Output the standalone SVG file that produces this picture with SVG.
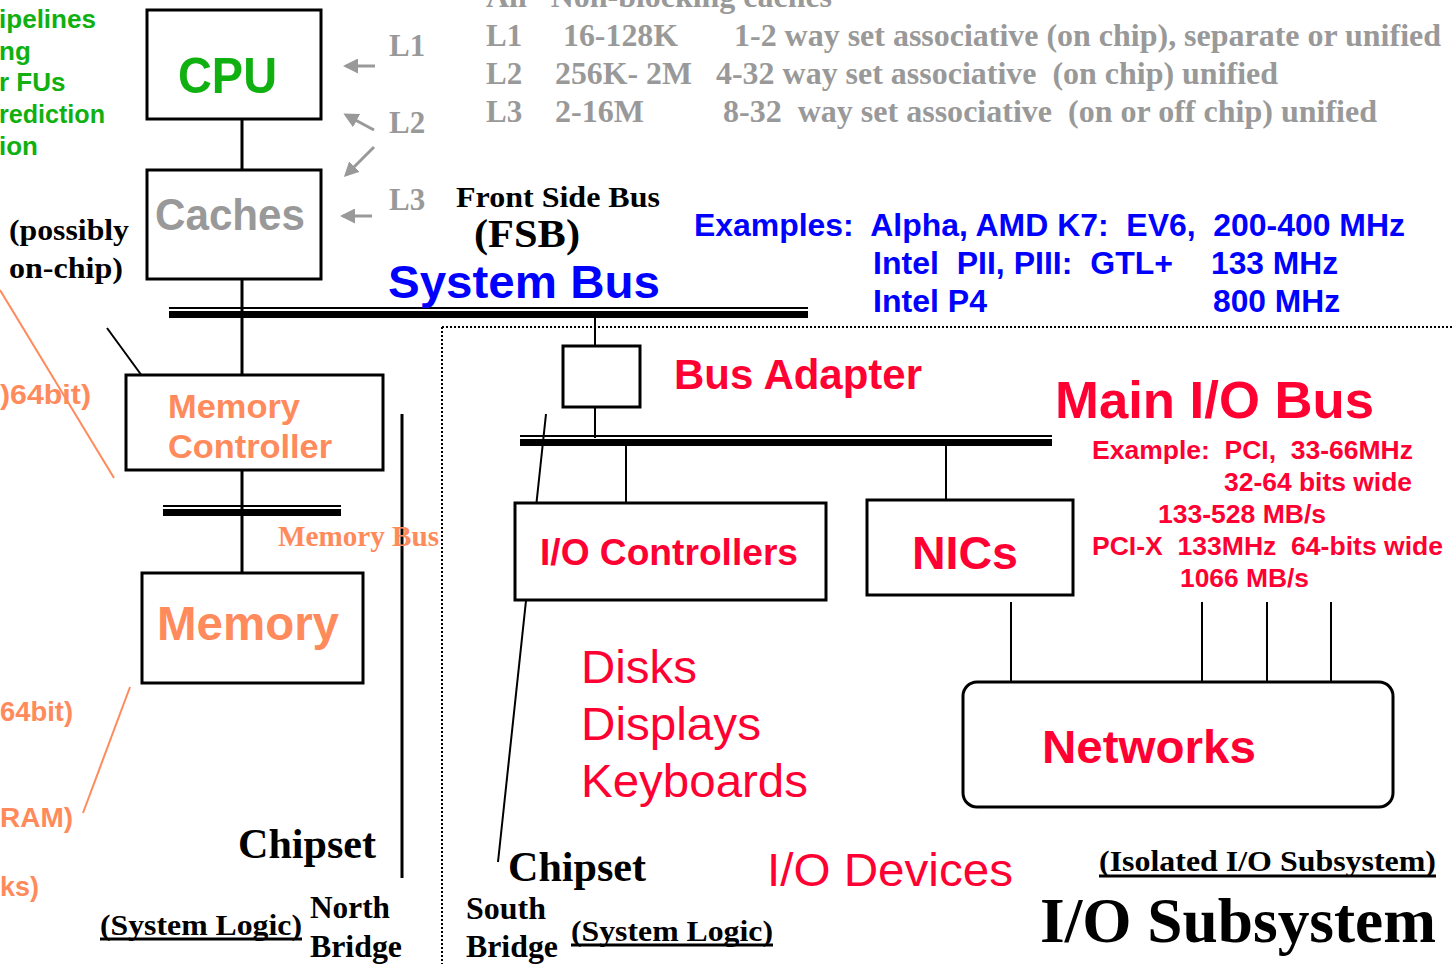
<svg xmlns="http://www.w3.org/2000/svg" width="1454" height="964" viewBox="0 0 1454 964">
  <defs>
    <marker id="grayArrow" viewBox="0 0 10 10" refX="8" refY="5" markerWidth="5" markerHeight="5" orient="auto" markerUnits="strokeWidth">
      <path d="M0,0 L10,5 L0,10 z" fill="#999999"/>
    </marker>
  </defs>
  <style>
    text { white-space: pre; }
    .sans { font-family: "Liberation Sans", Arial, sans-serif; font-weight: bold; }
    .sansn { font-family: "Liberation Sans", Arial, sans-serif; font-weight: normal; }
    .serif { font-family: "Liberation Serif", "Times New Roman", serif; font-weight: bold; }
    .box { fill: #ffffff; stroke: #000000; stroke-width: 3; }
    .wire { stroke: #000000; stroke-width: 3; fill: none; }
    .thin { stroke: #000000; stroke-width: 2; fill: none; }
    .green { fill: #10B010; }
    .gray { fill: #999999; }
    .orange { fill: #FF8A5B; }
    .red { fill: #FF0033; }
    .blue { fill: #0000FF; }
    .black { fill: #000000; }
    .dotted { stroke: #000000; stroke-width: 2; stroke-dasharray: 2 2; fill: none; }
    .garrow { stroke: #999999; stroke-width: 3; fill: none; marker-end: url(#grayArrow); }
  </style>
  <rect width="1454" height="964" fill="#ffffff"/>

  <!-- processor features list -->
  <g id="cpu-features" class="sans green" font-size="26">
    <text x="-1" y="28" textLength="97" lengthAdjust="spacingAndGlyphs">ipelines</text>
    <text x="-1" y="60">ng</text>
    <text x="-1" y="91">r FUs</text>
    <text x="-1" y="123" textLength="106" lengthAdjust="spacingAndGlyphs">rediction</text>
    <text x="-1" y="155">ion</text>
  </g>

  <!-- cache table -->
  <g id="cache-table" class="serif gray" font-size="31">
    <text x="486" y="7" textLength="346" lengthAdjust="spacingAndGlyphs">All   Non-blocking caches</text>
    <text x="486" y="46">L1</text>
    <text x="563" y="46" textLength="115" lengthAdjust="spacingAndGlyphs">16-128K</text>
    <text x="734" y="46" textLength="707" lengthAdjust="spacingAndGlyphs">1-2 way set associative (on chip), separate or unified</text>
    <text x="486" y="84">L2</text>
    <text x="555" y="84" textLength="137" lengthAdjust="spacingAndGlyphs">256K- 2M</text>
    <text x="716" y="84" textLength="562" lengthAdjust="spacingAndGlyphs">4-32 way set associative  (on chip) unified</text>
    <text x="486" y="122">L3</text>
    <text x="555" y="122" textLength="89" lengthAdjust="spacingAndGlyphs">2-16M</text>
    <text x="723" y="122" textLength="654" lengthAdjust="spacingAndGlyphs">8-32  way set associative  (on or off chip) unified</text>
  </g>

  <!-- cache level labels and pointers -->
  <g id="cache-levels">
    <g class="serif gray" font-size="31">
      <text x="389" y="56">L1</text>
      <text x="389" y="133">L2</text>
      <text x="389" y="210">L3</text>
    </g>
    <line class="garrow" x1="375" y1="66" x2="346" y2="66"/>
    <line class="garrow" x1="374" y1="130" x2="346" y2="115"/>
    <line class="garrow" x1="374" y1="147" x2="346" y2="175"/>
    <line class="garrow" x1="372" y1="216" x2="343" y2="216"/>
  </g>

  <!-- connectors -->
  <g id="connectors">
    <!-- CPU to caches to memory controller -->
    <line class="wire" x1="242" y1="119" x2="242" y2="170"/>
    <line class="wire" x1="242" y1="279" x2="242" y2="375"/>
    <line class="wire" x1="242" y1="470" x2="242" y2="573"/>
    <!-- system bus -->
    <line x1="169" y1="308" x2="808" y2="308" stroke="#000" stroke-width="2"/>
    <rect x="169" y="311" width="639" height="7" fill="#000"/>
    <!-- memory bus -->
    <line x1="163" y1="506" x2="341" y2="506" stroke="#000" stroke-width="2"/>
    <rect x="163" y="509" width="178" height="7" fill="#000"/>
    <!-- system bus to bus adapter to main I/O bus -->
    <line class="thin" x1="595" y1="318" x2="595" y2="346"/>
    <line class="thin" x1="595" y1="407" x2="595" y2="438"/>
    <!-- main I/O bus -->
    <line x1="520" y1="436" x2="1052" y2="436" stroke="#000" stroke-width="2"/>
    <rect x="520" y="439" width="532" height="7" fill="#000"/>
    <line class="thin" x1="626" y1="446" x2="626" y2="503"/>
    <line class="thin" x1="946" y1="446" x2="946" y2="500"/>
    <!-- network drops -->
    <line class="thin" x1="1011" y1="602" x2="1011" y2="682"/>
    <line class="thin" x1="1202" y1="602" x2="1202" y2="682"/>
    <line class="thin" x1="1267" y1="602" x2="1267" y2="682"/>
    <line class="thin" x1="1331" y1="602" x2="1331" y2="682"/>
    <!-- north bridge bracket -->
    <line class="wire" x1="402" y1="414" x2="402" y2="878"/>
    <!-- pointer lines -->
    <line class="thin" x1="107" y1="328" x2="153" y2="391"/>
    <line class="thin" x1="546" y1="414" x2="498" y2="862"/>
    <line x1="0" y1="290" x2="114" y2="478" stroke="#FF8A5B" stroke-width="2"/>
    <line x1="130" y1="687" x2="83" y2="813" stroke="#FF8A5B" stroke-width="2"/>
    <!-- I/O subsystem boundary -->
    <line class="dotted" x1="442" y1="327" x2="1454" y2="327"/>
    <line class="dotted" x1="442" y1="327" x2="442" y2="964"/>
  </g>

  <g id="cpu">
    <rect class="box" x="147" y="10" width="174" height="109"/>
    <text class="sans green" x="178" y="93" font-size="50" textLength="99" lengthAdjust="spacingAndGlyphs">CPU</text>
  </g>

  <g id="caches">
    <rect class="box" x="147" y="170" width="174" height="109"/>
    <text class="sans gray" x="155" y="230" font-size="44" textLength="150" lengthAdjust="spacingAndGlyphs">Caches</text>
  </g>

  <g id="possibly-on-chip" class="serif black" font-size="29">
    <text x="9" y="240" textLength="120" lengthAdjust="spacingAndGlyphs">(possibly</text>
    <text x="9" y="278" textLength="114" lengthAdjust="spacingAndGlyphs">on-chip)</text>
  </g>

  <g id="system-bus-labels">
    <text class="serif black" x="456" y="207" font-size="30" textLength="204" lengthAdjust="spacingAndGlyphs">Front Side Bus</text>
    <text class="serif black" x="474" y="247" font-size="40" textLength="106" lengthAdjust="spacingAndGlyphs">(FSB)</text>
    <text class="sans blue" x="388" y="298" font-size="47" textLength="272" lengthAdjust="spacingAndGlyphs">System Bus</text>
  </g>

  <g id="fsb-examples" class="sans blue" font-size="32">
    <text x="694" y="236" textLength="711" lengthAdjust="spacingAndGlyphs">Examples:  Alpha, AMD K7:  EV6,  200-400 MHz</text>
    <text x="873" y="274" textLength="300" lengthAdjust="spacingAndGlyphs">Intel  PII, PIII:  GTL+</text>
    <text x="1211" y="274" textLength="127" lengthAdjust="spacingAndGlyphs">133 MHz</text>
    <text x="873" y="312" textLength="114" lengthAdjust="spacingAndGlyphs">Intel P4</text>
    <text x="1213" y="312" textLength="127" lengthAdjust="spacingAndGlyphs">800 MHz</text>
  </g>

  <g id="memory-side-notes" class="sans orange" font-size="27">
    <text x="0" y="404" textLength="91" lengthAdjust="spacingAndGlyphs">)64bit)</text>
    <text x="0" y="721" textLength="73" lengthAdjust="spacingAndGlyphs">64bit)</text>
    <text x="0" y="827" textLength="73" lengthAdjust="spacingAndGlyphs">RAM)</text>
    <text x="0" y="896" textLength="39" lengthAdjust="spacingAndGlyphs">ks)</text>
  </g>

  <g id="memory-controller">
    <rect class="box" x="126" y="375" width="257" height="95"/>
    <text class="sans orange" x="168" y="418" font-size="34" textLength="132" lengthAdjust="spacingAndGlyphs">Memory</text>
    <text class="sans orange" x="168" y="458" font-size="34" textLength="164" lengthAdjust="spacingAndGlyphs">Controller</text>
  </g>

  <g id="memory-bus-label">
    <text class="serif orange" x="278" y="546" font-size="29" textLength="161" lengthAdjust="spacingAndGlyphs">Memory Bus</text>
  </g>

  <g id="memory">
    <rect class="box" x="142" y="573" width="221" height="110"/>
    <text class="sans orange" x="157" y="640" font-size="48" textLength="182" lengthAdjust="spacingAndGlyphs">Memory</text>
  </g>

  <g id="north-bridge" class="serif black">
    <text x="238" y="858" font-size="42" textLength="138" lengthAdjust="spacingAndGlyphs">Chipset</text>
    <text x="100" y="935" font-size="30" textLength="202" lengthAdjust="spacingAndGlyphs">(System Logic)</text>
    <line x1="100" y1="939" x2="302" y2="939" stroke="#000" stroke-width="3"/>
    <text x="310" y="918" font-size="31" textLength="80" lengthAdjust="spacingAndGlyphs">North</text>
    <text x="310" y="957" font-size="31" textLength="92" lengthAdjust="spacingAndGlyphs">Bridge</text>
  </g>

  <g id="bus-adapter">
    <rect class="box" x="563" y="346" width="77" height="61"/>
    <text class="sans red" x="674" y="389" font-size="42" textLength="248" lengthAdjust="spacingAndGlyphs">Bus Adapter</text>
  </g>

  <g id="main-io-bus-label">
    <text class="sans red" x="1055" y="418" font-size="52" textLength="319" lengthAdjust="spacingAndGlyphs">Main I/O Bus</text>
  </g>

  <g id="io-bus-examples" class="sans red" font-size="25">
    <text x="1092" y="459" textLength="321" lengthAdjust="spacingAndGlyphs">Example:  PCI,  33-66MHz</text>
    <text x="1224" y="491" textLength="188" lengthAdjust="spacingAndGlyphs">32-64 bits wide</text>
    <text x="1158" y="523" textLength="168" lengthAdjust="spacingAndGlyphs">133-528 MB/s</text>
    <text x="1092" y="555" textLength="351" lengthAdjust="spacingAndGlyphs">PCI-X  133MHz  64-bits wide</text>
    <text x="1180" y="587" textLength="129" lengthAdjust="spacingAndGlyphs">1066 MB/s</text>
  </g>

  <g id="io-controllers">
    <rect class="box" x="515" y="503" width="311" height="97"/>
    <text class="sans red" x="540" y="565" font-size="37" textLength="258" lengthAdjust="spacingAndGlyphs">I/O Controllers</text>
  </g>

  <g id="nics">
    <rect class="box" x="867" y="500" width="206" height="95"/>
    <text class="sans red" x="912" y="569" font-size="47" textLength="106" lengthAdjust="spacingAndGlyphs">NICs</text>
  </g>

  <g id="networks">
    <rect class="box" x="963" y="682" width="430" height="125" rx="14" ry="14"/>
    <text class="sans red" x="1042" y="763" font-size="47" textLength="214" lengthAdjust="spacingAndGlyphs">Networks</text>
  </g>

  <g id="devices" class="sansn red" font-size="46">
    <text x="581" y="683" textLength="116" lengthAdjust="spacingAndGlyphs">Disks</text>
    <text x="581" y="740" textLength="180" lengthAdjust="spacingAndGlyphs">Displays</text>
    <text x="581" y="797" textLength="227" lengthAdjust="spacingAndGlyphs">Keyboards</text>
    <text x="767" y="886" textLength="246" lengthAdjust="spacingAndGlyphs">I/O Devices</text>
  </g>

  <g id="south-bridge" class="serif black">
    <text x="508" y="881" font-size="42" textLength="138" lengthAdjust="spacingAndGlyphs">Chipset</text>
    <text x="466" y="919" font-size="31" textLength="80" lengthAdjust="spacingAndGlyphs">South</text>
    <text x="466" y="957" font-size="31" textLength="92" lengthAdjust="spacingAndGlyphs">Bridge</text>
    <text x="571" y="941" font-size="30" textLength="202" lengthAdjust="spacingAndGlyphs">(System Logic)</text>
    <line x1="571" y1="945" x2="773" y2="945" stroke="#000" stroke-width="3"/>
  </g>

  <g id="io-subsystem" class="serif black">
    <text x="1099" y="871" font-size="30" textLength="337" lengthAdjust="spacingAndGlyphs">(Isolated I/O Subsystem)</text>
    <line x1="1099" y1="876" x2="1436" y2="876" stroke="#000" stroke-width="3"/>
    <text x="1040" y="942" font-size="63" textLength="396" lengthAdjust="spacingAndGlyphs">I/O Subsystem</text>
  </g>
</svg>
